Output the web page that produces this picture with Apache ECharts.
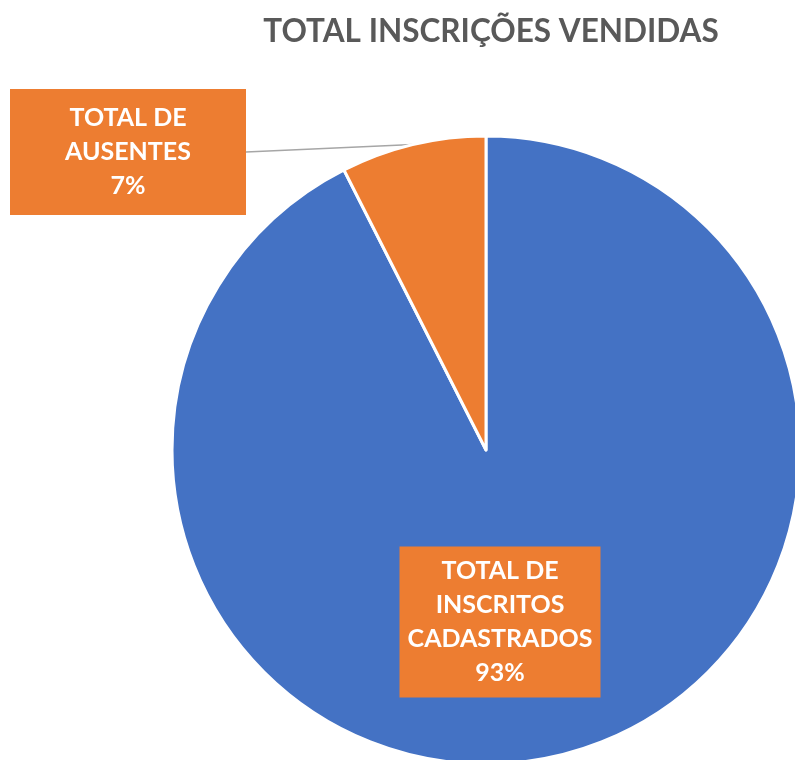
<!DOCTYPE html>
<html>
<head>
<meta charset="utf-8">
<script src="https://cdn.jsdelivr.net/npm/echarts@6/dist/echarts.min.js"></script>
<style>
    html, body {margin: 0; padding: 0; background: #fff;}
    #chart {width: 795px; height: 760px;}
</style>
</head>
<body>
<div id="chart"></div>
<script>
// dados
var categorias = ['TOTAL DE\nINSCRITOS\nCADASTRADOS', 'TOTAL DE\nAUSENTES'];
var valores = [92.53, 7.47];
var cores = ['#4472c4', '#ed7d31'];

var myChart = echarts.init(document.getElementById('chart'));

var dados = categorias.map(function (nome, i) {
    return {name: nome, value: valores[i], itemStyle: {color: cores[i]}};
});

var labelBase = {
    show: true,
    color: '#fff',
    fontFamily: 'Lato',
    fontWeight: 'bold',
    fontSize: 25,
    lineHeight: 34,
    align: 'center',
    backgroundColor: '#ed7d31',
    formatter: function (p) {
        return p.name + '\n' + Math.round(p.percent) + '%';
    }
};

// ausentes: caixa fora da pizza com linha guia
dados[1].label = echarts.util.extend(echarts.util.extend({}, labelBase), {
    position: 'outside',
    width: 236,
    padding: [12, 0, 12, 0]
});
dados[1].labelLine = {show: true, length2: 0, lineStyle: {color: '#a6a6a6', width: 1.5}};

// cadastrados: caixa dentro da pizza
dados[0].label = echarts.util.extend(echarts.util.extend({}, labelBase), {
    position: 'inside',
    width: 201,
    padding: [8, 0, 7, 0]
});
dados[0].labelLine = {show: false};

var option = {
    animation: false,
    title: {
        text: 'TOTAL INSCRIÇÕES VENDIDAS',
        left: 486,
        textAlign: 'center',
        top: 11,
        textStyle: {
            fontFamily: 'Lato',
            fontSize: 31.5,
            fontWeight: 'bold',
            color: '#595959'
        }
    },
    series: [{
        type: 'pie',
        center: [486, 450],
        radius: 314,
        startAngle: 90,
        clockwise: true,
        itemStyle: {borderColor: '#fff', borderWidth: 3},
        labelLayout: function (params) {
            if (params.dataIndex === 1) {
                return {x: 128, y: 152, align: 'center', verticalAlign: 'middle'};
            }
            return {x: 500, y: 622, align: 'center', verticalAlign: 'middle'};
        },
        data: dados
    }]
};
myChart.setOption(option);
</script>
</body>
</html>
